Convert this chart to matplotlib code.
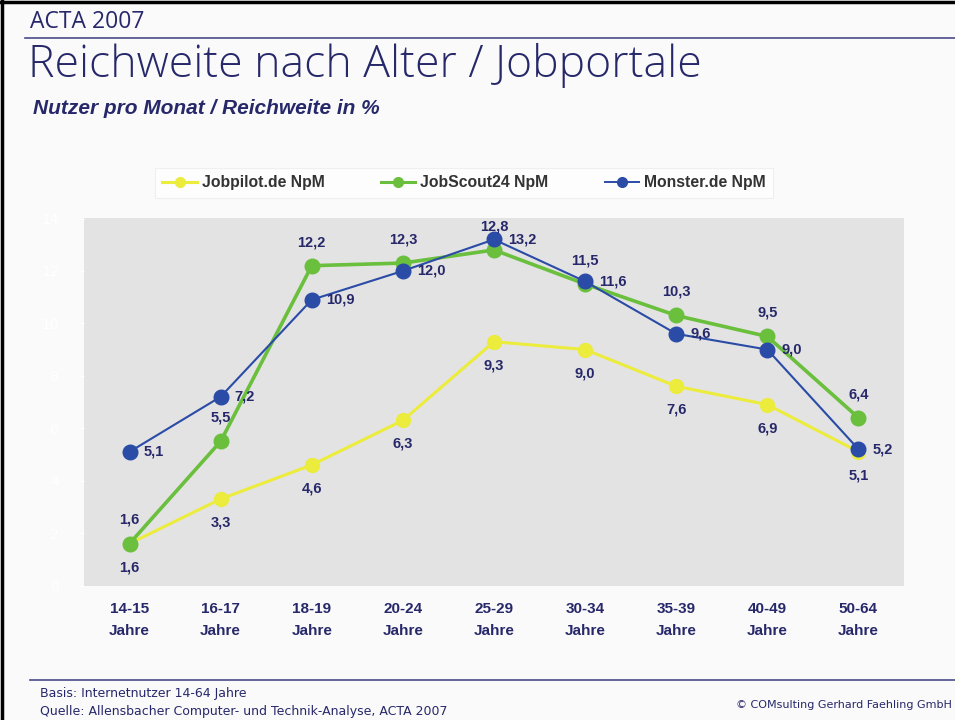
import numpy as np
import matplotlib
matplotlib.use('Agg')
import matplotlib.pyplot as plt
from matplotlib.lines import Line2D

# data
categories = ['14-15\nJahre', '16-17\nJahre', '18-19\nJahre', '20-24\nJahre', '25-29\nJahre',
              '30-34\nJahre', '35-39\nJahre', '40-49\nJahre', '50-64\nJahre']
jobpilot = [1.6, 3.3, 4.6, 6.3, 9.3, 9.0, 7.6, 6.9, 5.1]
jobscout = [1.6, 5.5, 12.2, 12.3, 12.8, 11.5, 10.3, 9.5, 6.4]
monster = [5.1, 7.2, 10.9, 12.0, 13.2, 11.6, 9.6, 9.0, 5.2]
y_ticks = [0, 2, 4, 6, 8, 10, 12, 14]

navy = '#27286a'
bg = '#fafafa'
c_yellow = '#ecec3c'
c_green = '#6abf3d'
c_blue = '#2a4ba6'

W, H = 955, 720
fig = plt.figure(figsize=(W / 100, H / 100), dpi=100, facecolor=bg)


def fx(px):
    return px / W


def fy(py):
    return 1 - py / H


# slide frame (top and left edges) and header rules
fig.add_artist(Line2D([fx(1.5), fx(1.5)], [0, 1], color='black', lw=2.5))
fig.add_artist(Line2D([0, 1], [fy(1.5), fy(1.5)], color='black', lw=2.5))
fig.add_artist(Line2D([fx(25), 1], [fy(38), fy(38)], color='#4a4a8a', lw=1.2))
fig.add_artist(Line2D([fx(30), 1], [fy(680), fy(680)], color='#4a4a8a', lw=1.2))

fig.text(fx(30), fy(22), 'ACTA 2007', fontsize=16.5, color=navy, va='center', family='Open Sans')
fig.text(fx(28), fy(66), 'Reichweite nach Alter / Jobportale', fontsize=32, color=navy,
         va='center', family='Open Sans', fontweight=300)
fig.text(fx(33), fy(109), 'Nutzer pro Monat / Reichweite in %', fontsize=15, color=navy,
         va='center', fontweight='bold', style='italic', family='Liberation Sans')

fig.text(fx(40), fy(693), 'Basis: Internetnutzer 14-64 Jahre', fontsize=9, color=navy,
         va='center')
fig.text(fx(40), fy(712), 'Quelle: Allensbacher Computer- und Technik-Analyse, ACTA 2007',
         fontsize=9, color=navy, va='center')
fig.text(fx(952), fy(705), '\u00a9 COMsulting Gerhard Faehling GmbH', fontsize=8, color=navy,
         va='center', ha='right')

ax = fig.add_axes([fx(84), fy(585.5), fx(904) - fx(84), fy(218.5) - fy(585.5)])
ax.set_facecolor('#e3e3e3')
for s in ax.spines.values():
    s.set_visible(False)

x = np.arange(len(categories))
ax.plot(x, jobpilot, '-o', color=c_yellow, lw=2.2, ms=10, zorder=3)
ax.plot(x, jobscout, '-o', color=c_green, lw=2.6, ms=10.5, zorder=4)
ax.plot(x, monster, '-o', color=c_blue, lw=1.5, ms=10.5, zorder=5)

lab_kw = dict(fontsize=10.5, fontweight='bold', color=navy, family='Liberation Sans', zorder=6)
for i in range(len(categories)):
    ax.annotate(f'{jobpilot[i]:.1f}'.replace('.', ','), (x[i], jobpilot[i]), xytext=(0, -17),
                textcoords='offset points', ha='center', va='center', **lab_kw)
    ax.annotate(f'{jobscout[i]:.1f}'.replace('.', ','), (x[i], jobscout[i]), xytext=(0, 17),
                textcoords='offset points', ha='center', va='center', **lab_kw)
    ax.annotate(f'{monster[i]:.1f}'.replace('.', ','), (x[i], monster[i]), xytext=(10, 0),
                textcoords='offset points', ha='left', va='center', **lab_kw)

ax.set_xlim(-0.5, len(categories) - 0.5)
ax.set_ylim(0, 14)
ax.set_xticks(x)
ax.set_xticklabels(categories, fontsize=11, fontweight='bold', color=navy,
                   family='Liberation Sans', linespacing=1.75)
ax.tick_params(axis='x', length=0, pad=12)
ax.set_yticks(y_ticks)
ax.set_yticklabels([str(v) for v in y_ticks], fontsize=10, color='white')
ax.tick_params(axis='y', length=4, color='white', pad=14)

# legend
handles = [Line2D([], [], color=c_yellow, lw=2.2, marker='o', ms=7),
           Line2D([], [], color=c_green, lw=2.2, marker='o', ms=7),
           Line2D([], [], color=c_blue, lw=1.4, marker='o', ms=7)]
names = ['Jobpilot.de NpM', 'JobScout24 NpM', 'Monster.de NpM']
leg = fig.legend(handles, names, ncol=3, loc='center',
                 bbox_to_anchor=(fx(464), fy(183)), frameon=True, fancybox=False,
                 prop={'family': 'Liberation Sans', 'weight': 'bold', 'size': 11.3},
                 handlelength=2.2, handletextpad=0.3, columnspacing=3.6,
                 borderpad=0.45)
leg.get_frame().set_facecolor('white')
leg.get_frame().set_edgecolor('#ececec')
leg.get_frame().set_linewidth(0.8)
for t in leg.get_texts():
    t.set_color('#333333')

fig.savefig('out.png', dpi=100, facecolor=bg)
